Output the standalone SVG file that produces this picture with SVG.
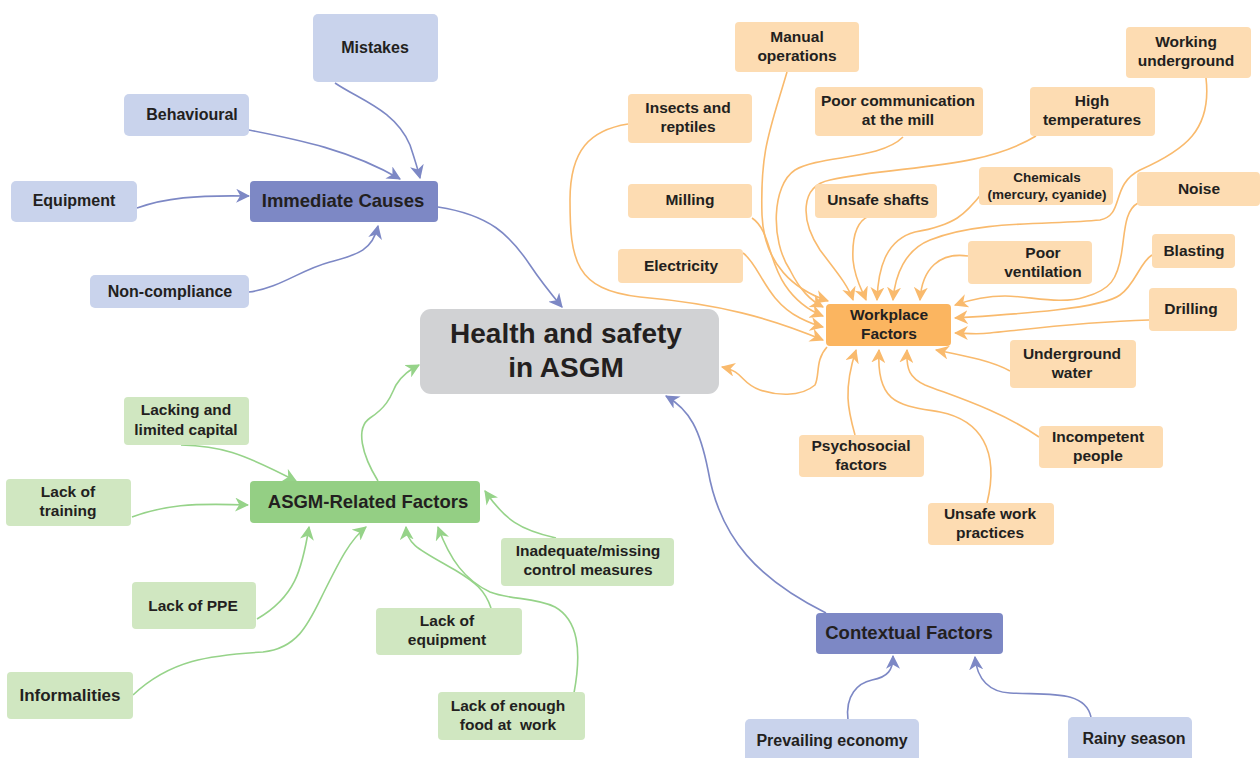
<svg xmlns="http://www.w3.org/2000/svg" width="1260" height="758" viewBox="0 0 1260 758">
<style>
text{font-family:"Liberation Sans",Arial,sans-serif;font-weight:bold;fill:#231f20;text-anchor:middle}
.t16{font-size:16px}
.t15{font-size:15.5px}
.t14{font-size:13.5px}
.big{font-size:18.5px}
.lb{fill:#c9d3ec}
.db{fill:#7d88c5}
.lo{fill:#fddcb2}
.ho{fill:#fbb560}
.lg{fill:#d0e7c1}
.hg{fill:#94cf84}
.gr{fill:#d1d2d4}
.cb{fill:none;stroke:#7d88c5;stroke-width:1.6}
.co{fill:none;stroke:#f9ba6d;stroke-width:1.6}
.cg{fill:none;stroke:#96d389;stroke-width:1.6}
</style>
<defs>
<marker id="ab" viewBox="0 0 12 12" refX="11" refY="6" markerWidth="14" markerHeight="14" markerUnits="userSpaceOnUse" orient="auto"><path d="M0,0 L12,6 L0,12 L3.5,6 z" fill="#7d88c5"/></marker>
<marker id="ao" viewBox="0 0 12 12" refX="11" refY="6" markerWidth="14" markerHeight="14" markerUnits="userSpaceOnUse" orient="auto"><path d="M0,0 L12,6 L0,12 L3.5,6 z" fill="#f9ba6d"/></marker>
<marker id="ag" viewBox="0 0 12 12" refX="11" refY="6" markerWidth="14" markerHeight="14" markerUnits="userSpaceOnUse" orient="auto"><path d="M0,0 L12,6 L0,12 L3.5,6 z" fill="#96d389"/></marker>
</defs>
<rect width="1260" height="758" fill="#ffffff"/>
<g id="connectors">
<path class="cb" marker-end="url(#ab)" d="M335,83 C360,100 395,110 410,145 C415,160 418,170 420,178"/>
<path class="cb" marker-end="url(#ab)" d="M249,130 C300,140 350,150 400,179"/>
<path class="cb" marker-end="url(#ab)" d="M137,208 C165,198 195,195 249,196"/>
<path class="cb" marker-end="url(#ab)" d="M249,292 C280,288 300,270 330,262 C355,255 372,252 378,226"/>
<path class="cb" marker-end="url(#ab)" d="M438,207 C490,215 510,235 530,265 C540,280 552,295 562,307"/>
<path class="cb" marker-end="url(#ab)" d="M826,613 C760,580 720,540 708,470 C700,430 690,410 666,396"/>
<path class="cb" marker-end="url(#ab)" d="M848,720 C845,695 858,683 872,680 C888,677 893,670 893,656"/>
<path class="cb" marker-end="url(#ab)" d="M1091,717 C1085,690 1050,695 1010,693 C990,692 977,680 975,657"/>
<path class="cg" marker-end="url(#ag)" d="M378,481 C362,455 355,428 370,418 C390,405 392,392 396,385 C402,375 410,370 419,365"/>
<path class="cg" marker-end="url(#ag)" d="M181,445 C220,446 240,452 296,481"/>
<path class="cg" marker-end="url(#ag)" d="M132,517 C165,505 190,503 248,505"/>
<path class="cg" marker-end="url(#ag)" d="M257,619 C295,597 302,570 309,527"/>
<path class="cg" marker-end="url(#ag)" d="M133,695 C170,660 210,655 263,652 C300,648 310,620 325,590 C340,560 350,540 366,527"/>
<path class="cg" marker-end="url(#ag)" d="M491,608 C485,590 475,582 455,570 C420,550 407,545 406,527"/>
<path class="cg" marker-end="url(#ag)" d="M574,693 C582,650 578,620 555,607 C535,597 510,600 490,592 C465,580 450,560 438,527"/>
<path class="cg" marker-end="url(#ag)" d="M556,538 C520,530 505,520 485,491"/>
<path class="co" marker-end="url(#ao)" d="M787,72 C770,130 760,150 762,215 C764,265 795,290 828,301"/>
<path class="co" marker-end="url(#ao)" d="M903,137 C880,160 820,155 795,170 C772,185 770,240 790,270 C800,290 810,300 823,307"/>
<path class="co" marker-end="url(#ao)" d="M752,218 C770,230 768,260 785,285 C795,300 808,310 823,316"/>
<path class="co" marker-end="url(#ao)" d="M743,253 C760,265 765,300 800,318 C808,322 815,325 823,327"/>
<path class="co" marker-end="url(#ao)" d="M628,124 C590,130 570,150 570,200 C570,260 575,290 640,297 C720,304 770,318 823,340"/>
<path class="co" marker-end="url(#ao)" d="M1036,136 C980,170 900,165 830,180 C800,186 800,220 820,250 C835,270 848,285 853,300"/>
<path class="co" marker-end="url(#ao)" d="M869,216 C855,222 852,240 853,260 C855,280 862,290 866,300"/>
<path class="co" marker-end="url(#ao)" d="M983,192 C965,215 955,225 915,232 C885,240 878,270 877,300"/>
<path class="co" marker-end="url(#ao)" d="M1206,78 C1212,130 1185,150 1140,170 C1110,185 1125,215 1100,220 C1050,225 980,220 930,240 C905,250 895,275 893,300"/>
<path class="co" marker-end="url(#ao)" d="M968,256 C940,252 922,268 920,300"/>
<path class="co" marker-end="url(#ao)" d="M1138,203 C1125,210 1125,230 1122,250 C1118,280 1110,290 1085,297 C1060,305 1030,296 1005,296 C990,296 975,298 955,305"/>
<path class="co" marker-end="url(#ao)" d="M1152,255 C1140,262 1135,285 1120,295 C1100,310 1000,315 955,318"/>
<path class="co" marker-end="url(#ao)" d="M1149,320 C1080,322 1020,330 990,333 C975,335 965,333 955,333"/>
<path class="co" marker-end="url(#ao)" d="M1010,371 C990,360 960,355 936,350"/>
<path class="co" marker-end="url(#ao)" d="M855,435 C848,410 843,390 856,350"/>
<path class="co" marker-end="url(#ao)" d="M987,503 C1000,450 980,420 940,412 C900,405 876,405 879,350"/>
<path class="co" marker-end="url(#ao)" d="M1039,437 C1000,410 950,395 925,385 C910,378 906,370 907,350"/>
<path class="co" marker-end="url(#ao)" d="M827,347 C815,360 820,375 815,385 C800,398 775,395 760,390 C740,383 745,372 722,367"/>
</g>
<g id="health"><rect class="gr" x="420" y="309" width="299" height="85" rx="11"/><text x="566" y="343" style="font-size:28px">Health and safety</text><text x="566" y="377" style="font-size:28px">in ASGM</text></g>
<g id="immediate"><rect class="db" x="250" y="181" width="188" height="41" rx="4"/><text class="big" x="343" y="207">Immediate Causes</text></g>
<g id="mistakes"><rect class="lb" x="313" y="14" width="125" height="68" rx="5"/><text class="t16" x="375" y="53">Mistakes</text></g>
<g id="behavioural"><rect class="lb" x="124" y="94" width="125" height="42" rx="5"/><text class="t16" x="192" y="120">Behavioural</text></g>
<g id="equipment"><rect class="lb" x="11" y="181" width="126" height="41" rx="5"/><text class="t16" x="74" y="206">Equipment</text></g>
<g id="noncompliance"><rect class="lb" x="90" y="275" width="159" height="33" rx="5"/><text class="t16" x="170" y="297">Non-compliance</text></g>
<g id="workplace"><rect class="ho" x="826" y="304" width="125" height="42" rx="4"/><text class="t15" x="889" y="320">Workplace</text><text class="t15" x="889" y="339">Factors</text></g>
<g id="manual"><rect class="lo" x="735" y="22" width="124" height="50" rx="4"/><text class="t15" x="797" y="42">Manual</text><text class="t15" x="797" y="61">operations</text></g>
<g id="insects"><rect class="lo" x="628" y="94" width="124" height="49" rx="4"/><text class="t15" x="688" y="113">Insects and</text><text class="t15" x="688" y="132">reptiles</text></g>
<g id="poorcomm"><rect class="lo" x="815" y="87" width="168" height="49" rx="4"/><text class="t15" x="898" y="106">Poor communication</text><text class="t15" x="898" y="125">at the mill</text></g>
<g id="hightemp"><rect class="lo" x="1030" y="87" width="125" height="49" rx="4"/><text class="t15" x="1092" y="106">High</text><text class="t15" x="1092" y="125">temperatures</text></g>
<g id="workingunder"><rect class="lo" x="1126" y="27" width="125" height="51" rx="4"/><text class="t15" x="1186" y="47">Working</text><text class="t15" x="1186" y="66">underground</text></g>
<g id="milling"><rect class="lo" x="628" y="184" width="124" height="34" rx="4"/><text class="t15" x="690" y="205">Milling</text></g>
<g id="unsafeshafts"><rect class="lo" x="815" y="184" width="122" height="34" rx="4"/><text class="t15" x="878" y="205">Unsafe shafts</text></g>
<g id="chemicals"><rect class="lo" x="979" y="167" width="134" height="38" rx="4"/><text class="t14" x="1047" y="182">Chemicals</text><text class="t14" x="1047" y="199">(mercury, cyanide)</text></g>
<g id="noise"><rect class="lo" x="1137" y="172" width="123" height="34" rx="4"/><text class="t15" x="1199" y="194">Noise</text></g>
<g id="electricity"><rect class="lo" x="618" y="249" width="125" height="34" rx="4"/><text class="t15" x="681" y="271">Electricity</text></g>
<g id="ventilation"><rect class="lo" x="968" y="241" width="124" height="43" rx="4"/><text class="t15" x="1043" y="258">Poor</text><text class="t15" x="1043" y="277">ventilation</text></g>
<g id="blasting"><rect class="lo" x="1152" y="234" width="83" height="34" rx="4"/><text class="t15" x="1194" y="256">Blasting</text></g>
<g id="drilling"><rect class="lo" x="1149" y="288" width="88" height="43" rx="4"/><text class="t15" x="1191" y="314">Drilling</text></g>
<g id="ugwater"><rect class="lo" x="1010" y="340" width="126" height="48" rx="4"/><text class="t15" x="1072" y="359">Underground</text><text class="t15" x="1072" y="378">water</text></g>
<g id="psychosocial"><rect class="lo" x="799" y="435" width="125" height="42" rx="4"/><text class="t15" x="861" y="451">Psychosocial</text><text class="t15" x="861" y="470">factors</text></g>
<g id="incompetent"><rect class="lo" x="1039" y="426" width="124" height="42" rx="4"/><text class="t15" x="1098" y="442">Incompetent</text><text class="t15" x="1098" y="461">people</text></g>
<g id="unsafework"><rect class="lo" x="928" y="503" width="126" height="42" rx="4"/><text class="t15" x="990" y="519">Unsafe work</text><text class="t15" x="990" y="538">practices</text></g>
<g id="asgm"><rect class="hg" x="250" y="481" width="230" height="42" rx="4"/><text class="big" x="368" y="508">ASGM-Related Factors</text></g>
<g id="capital"><rect class="lg" x="124" y="397" width="125" height="48" rx="4"/><text class="t15" x="186" y="415">Lacking and</text><text class="t15" x="186" y="435">limited capital</text></g>
<g id="training"><rect class="lg" x="6" y="479" width="125" height="47" rx="4"/><text class="t15" x="68" y="497">Lack of</text><text class="t15" x="68" y="516">training</text></g>
<g id="ppe"><rect class="lg" x="132" y="582" width="124" height="47" rx="4"/><text class="t15" x="193" y="611">Lack of PPE</text></g>
<g id="informalities"><rect class="lg" x="7" y="672" width="126" height="47" rx="4"/><text x="70" y="701" style="font-size:17px">Informalities</text></g>
<g id="lackequip"><rect class="lg" x="376" y="608" width="146" height="47" rx="4"/><text class="t15" x="447" y="626">Lack of</text><text class="t15" x="447" y="645">equipment</text></g>
<g id="food"><rect class="lg" x="438" y="692" width="147" height="48" rx="4"/><text class="t15" x="508" y="711">Lack of enough</text><text class="t15" x="508" y="730" xml:space="preserve">food at  work</text></g>
<g id="inadequate"><rect class="lg" x="501" y="538" width="173" height="48" rx="4"/><text class="t15" x="588" y="556">Inadequate/missing</text><text class="t15" x="588" y="575">control measures</text></g>
<g id="contextual"><rect class="db" x="816" y="613" width="187" height="41" rx="4"/><text class="big" x="909" y="639">Contextual Factors</text></g>
<g id="economy"><rect class="lb" x="745" y="719" width="174" height="50" rx="5"/><text class="t16" x="832" y="746">Prevailing economy</text></g>
<g id="rainy"><rect class="lb" x="1068" y="717" width="124" height="50" rx="5"/><text class="t16" x="1134" y="744">Rainy season</text></g>
</svg>
